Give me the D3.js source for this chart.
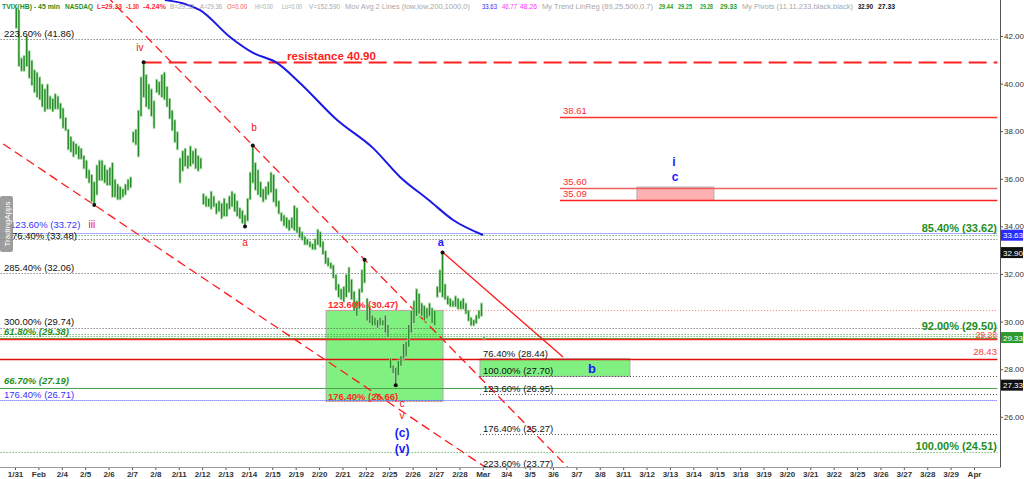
<!DOCTYPE html>
<html><head><meta charset="utf-8">
<script src="https://cdn.jsdelivr.net/npm/d3@7"></script>
<style>body{margin:0;background:#fff;} svg{display:block;font-family:Arial,"Liberation Sans",sans-serif;}</style>
</head><body><svg id="c" width="1024" height="479"></svg>
<script>
// ---------- data ----------
const dayLabels = ["1/31","Feb","2/4","2/5","2/6","2/7","2/8","2/11","2/12","2/13","2/14","2/15","2/19","2/20","2/21","2/22","2/25","2/26","2/27","2/28","Mar","3/4","3/5","3/6","3/7","3/8","3/11","3/12","3/13","3/14","3/15","3/18","3/19","3/20","3/21","3/22","3/25","3/26","3/27","3/28","3/29","Apr"];
const barsPerDay = 9;
const barHigh = [
43.2,43.1,41.1,41.2,42.0,41.4,41.0,40.6,40.5,
40.3,40.0,39.8,40.0,39.5,39.4,39.6,39.5,39.2,
39.0,38.6,38.1,37.8,37.6,37.5,37.4,37.3,37.0,
36.8,36.4,36.2,35.9,36.6,36.8,36.8,36.6,36.4,
36.5,36.7,36.0,35.8,35.7,35.6,35.8,36.0,36.1,
38.0,38.1,38.9,40.3,40.9,40.4,40.0,39.8,39.3,
40.2,40.1,40.4,40.5,39.9,39.4,38.9,38.5,38.0,
36.9,37.2,37.3,37.0,37.4,37.2,37.3,37.0,36.9,
35.4,35.3,35.2,35.5,35.3,35.0,35.1,35.0,35.2,
35.0,35.3,35.5,35.4,35.1,34.8,34.7,34.5,35.2,
36.3,37.4,36.7,36.4,35.9,35.6,35.7,35.9,36.3,
36.2,35.6,35.1,34.6,34.5,34.4,34.3,34.4,34.9,
34.8,34.0,33.8,33.6,33.5,33.4,33.3,33.5,33.9,
33.8,33.4,33.0,32.7,32.5,32.4,32.0,31.6,31.4,
31.5,32.0,32.3,31.8,31.3,30.9,31.4,32.2,32.6,
31.0,30.7,30.3,30.2,30.1,30.2,30.1,30.3,29.9,
28.5,28.2,28.1,28.4,28.6,29.1,29.2,29.9,30.5,
30.9,31.4,31.2,30.8,30.7,30.6,30.8,30.6,30.5,
31.5,32.2,32.9,31.6,31.1,31.0,30.9,31.1,31.0,
30.9,31.0,30.8,30.5,30.2,30.1,30.3,30.5,30.8,
29.4];
const barLow = [
42.3,40.7,40.5,40.5,40.7,40.2,39.9,39.6,39.4,
39.3,39.0,38.8,38.9,38.9,38.8,38.9,38.9,38.5,
38.1,38.0,37.2,37.1,36.9,37.0,36.8,36.8,36.4,
36.0,35.8,35.0,34.9,35.3,35.9,35.9,35.8,35.7,
35.7,35.2,35.2,35.1,35.1,35.2,35.3,35.5,35.6,
37.5,37.4,36.9,38.6,39.4,39.0,38.9,38.6,38.1,
39.6,39.5,39.4,39.3,39.0,38.5,38.0,37.5,37.2,
35.8,36.3,36.5,36.4,36.5,36.6,36.4,36.3,36.4,
34.9,34.8,34.8,34.7,34.8,34.5,34.6,34.3,34.4,
34.4,34.7,34.8,34.6,34.4,34.3,34.1,34.0,34.2,
35.1,35.8,35.5,35.3,35.2,35.0,35.1,35.3,35.4,
35.0,34.8,34.5,34.2,34.0,33.9,33.8,33.9,33.8,
33.7,33.5,33.4,33.2,33.2,33.1,33.0,33.0,33.2,
33.1,32.8,32.4,32.3,32.2,31.8,31.3,31.0,30.9,
30.8,31.0,31.2,30.9,30.4,30.2,30.5,31.2,31.6,
30.0,29.9,29.8,29.8,29.7,29.8,29.8,29.5,29.3,
28.0,27.8,27.33,27.7,28.1,28.4,28.5,28.9,29.5,
29.9,30.2,30.3,30.2,30.0,30.1,30.2,29.9,29.8,
31.0,31.2,31.0,30.9,30.7,30.6,30.6,30.6,30.5,
30.5,30.5,30.3,30.0,29.8,29.8,29.9,30.1,30.2,
29.25];
const maDay = [6.41, 7.91, 9.19, 10.18, 11.20, 12.18, 13.77, 15.31, 16.46, 17.7, 18.73, 20.01];
const maVal = [43.51, 43.09, 41.96, 41.29, 40.87, 40.03, 38.47, 37.29, 36.08, 35.1, 34.27, 33.64];
const pivotBars = [30, 49, 88, 91, 134, 146, 164];
const pivotSide = ["L","H","L","H","H","L","H"];
const priceTicks = [26,28,30,32,34,36,38,40,42];

// ---------- annotations ----------
const levels = [
 {p:41.86, d0:-1, d1:42, c:"#555", dash:"1,2", w:1},
 {p:40.90, d0:5.5, d1:42, c:"#ff2020", dash:"18,7", w:1.8},
 {p:38.61, d0:23.3, d1:42, c:"#ff3030", dash:null, w:1.5},
 {p:35.60, d0:23.3, d1:42, c:"#f06060", dash:null, w:1.5},
 {p:35.09, d0:23.3, d1:42, c:"#ff2020", dash:null, w:1.3},
 {p:33.72, d0:-1, d1:42, c:"#6060ff", dash:"1,1", w:1},
 {p:33.62, d0:-1, d1:42, c:"#30a030", dash:"1,2", w:1},
 {p:33.48, d0:-1, d1:42, c:"#555", dash:"1,2", w:1},
 {p:32.06, d0:-1, d1:42, c:"#555", dash:"1,2", w:1},
 {p:30.47, d0:13.3, d1:42, c:"#ff8080", dash:"1,2", w:1},
 {p:29.74, d0:-1, d1:42, c:"#555", dash:"1,2", w:1},
 {p:29.50, d0:-1, d1:42, c:"#30a030", dash:"1,2", w:1},
 {p:29.38, d0:-1, d1:42, c:"#30a030", dash:"1,2", w:1},
 {p:29.33, d0:-1, d1:42, c:"#50b050", dash:null, w:1},
 {p:29.28, d0:-1, d1:42, c:"#ff2020", dash:null, w:1.3},
 {p:28.43, d0:-1, d1:42, c:"#e01010", dash:null, w:1.3},
 {p:27.70, d0:19.88, d1:42, c:"#555", dash:"1,2", w:1},
 {p:27.19, d0:-1, d1:42, c:"#50a050", dash:null, w:1},
 {p:26.95, d0:19.88, d1:42, c:"#555", dash:"1,2", w:1},
 {p:26.71, d0:-1, d1:42, c:"#5050ff", dash:"1,1", w:1},
 {p:26.66, d0:13.3, d1:18.3, c:"#ff6060", dash:"1,2", w:1},
 {p:25.27, d0:19.88, d1:42, c:"#555", dash:"1,2", w:1},
 {p:24.51, d0:-1, d1:42, c:"#30a030", dash:"1,2", w:1}
];
const zones = [
 {d0:13.3, d1:18.3, p0:30.47, p1:26.66, fill:"#80f080"},
 {d0:19.88, d1:26.29, p0:28.44, p1:27.70, fill:"#80f080"},
 {d0:26.59, d1:29.88, p0:35.65, p1:35.09, fill:"#ffb0b0"}
];
const trendLines = [
 {a:{d:10.17,p:37.4}, b:{d:14.95,p:32.6}, from:3.5, to:24.5, dash:"9,5", w:1.3},
 {a:{d:-0.556,p:37.5}, b:{d:3.389,p:34.9}, from:-1, to:21, dash:"9,5", w:1.3},
 {a:{d:18.30,p:32.9}, b:{d:23.43,p:28.51}, from:18.30, to:23.43, dash:null, w:1.3}
];
const levelLabels = [
 {t:"223.60% (41.86)", d:-0.47, p:41.86, c:"#111", s:9.5},
 {t:"123.60% (33.72)", d:-0.21, p:33.72, c:"#3333ff", s:9.5, dy:-5},
 {t:"76.40% (33.48)", d:-0.13, p:33.48, c:"#111", s:9.5, dy:0},
 {t:"285.40% (32.06)", d:-0.47, p:32.06, c:"#111", s:9.5},
 {t:"300.00% (29.74)", d:-0.47, p:29.74, c:"#111", s:9.5, dy:-3},
 {t:"61.80% (29.38)", d:-0.47, p:29.38, c:"#1f8f1f", s:9.5, b:1, i:1, dy:-1.5},
 {t:"66.70% (27.19)", d:-0.47, p:27.19, c:"#1f8f1f", s:9.5, b:1, i:1, dy:-4},
 {t:"176.40% (26.71)", d:-0.47, p:26.71, c:"#3333ff", s:9.5},
 {t:"123.60% (30.47)", d:13.38, p:30.47, c:"#ff2a2a", s:9.5, b:1},
 {t:"176.40% (26.66)", d:13.38, p:26.66, c:"#ff2a2a", s:9.5, b:1, dy:-1},
 {t:"resistance 40.90", d:11.63, p:40.90, c:"#ff2020", s:11.5, b:1},
 {t:"38.61", d:23.43, p:38.61, c:"#ff2a2a", s:9.5, dy:-3},
 {t:"35.60", d:23.43, p:35.60, c:"#ff2a2a", s:9.5, dy:-3},
 {t:"35.09", d:23.43, p:35.09, c:"#ff2a2a", s:9.5, dy:-3},
 {t:"76.40% (28.44)", d:20.01, p:28.44, c:"#111", s:9.5},
 {t:"100.00% (27.70)", d:20.01, p:27.70, c:"#111", s:9.5},
 {t:"123.60% (26.95)", d:20.01, p:26.95, c:"#111", s:9.5},
 {t:"176.40% (25.27)", d:20.01, p:25.27, c:"#111", s:9.5},
 {t:"223.60% (23.77)", d:20.01, p:23.77, c:"#111", s:9.5, dy:-3},
 {t:"85.40% (33.62)", d:41.98, p:33.62, c:"#1f8f1f", s:11, b:1, end:1, dy:-3},
 {t:"92.00% (29.50)", d:41.98, p:29.50, c:"#1f8f1f", s:11, b:1, end:1, dy:-4},
 {t:"29.28", d:41.98, p:29.28, c:"#ff4040", s:8.5, end:1, dy:-0.8},
 {t:"28.43", d:41.98, p:28.43, c:"#ff4040", s:9.5, end:1, dy:-3.5},
 {t:"100.00% (24.51)", d:41.98, p:24.51, c:"#1f8f1f", s:11, b:1, end:1}
];
const waveLabels = [
 {t:"iv", d:5.34, p:41.37, c:"#ee1111", s:10},
 {t:"iii", d:3.29, p:33.95, c:"#ee1111", s:10},
 {t:"a", d:9.83, p:33.18, c:"#ee1111", s:10},
 {t:"b", d:10.22, p:38.01, c:"#ee1111", s:10},
 {t:"c", d:16.55, p:26.41, c:"#ee1111", s:10},
 {t:"v", d:16.55, p:25.91, c:"#ee1111", s:10},
 {t:"(c)", d:16.55, p:25.15, c:"#1a1aff", s:12, b:1},
 {t:"(v)", d:16.55, p:24.48, c:"#1a1aff", s:12, b:1},
 {t:"a", d:18.21, p:33.18, c:"#1a1aff", s:11, b:1},
 {t:"b", d:24.67, p:27.84, c:"#1a1aff", s:13, b:1},
 {t:"i", d:28.17, p:36.54, c:"#1a1aff", s:12, b:1},
 {t:"c", d:28.22, p:35.91, c:"#1a1aff", s:12, b:1}
];
const priceTags = [
 {v:33.63, fill:"#2a2aff"}, {v:32.90, fill:"#111"}, {v:29.33, fill:"#2e9a2e"}, {v:27.33, fill:"#111"}
];
const header = [
 {t:"TVIX(HB) - 45 min", x:2, w:58, c:"#1f8f1f", b:1},
 {t:"NASDAQ", x:65, w:28, c:"#1f8f1f", b:1},
 {t:"L=29.33", x:97, w:25, c:"#ff2a2a", b:1},
 {t:"-1.30", x:126, w:13, c:"#ff2a2a", b:1},
 {t:"-4.24%", x:143, w:23, c:"#ff2a2a", b:1},
 {t:"B=29.32", x:170, w:24, c:"#a8a8a8"},
 {t:"A=29.36", x:200, w:22, c:"#a8a8a8"},
 {t:"O=0.00", x:227, w:20, c:"#ff5050"},
 {t:"Hi=0.00", x:255, w:18, c:"#a8a8a8"},
 {t:"Lo=0.00", x:282, w:20, c:"#a8a8a8"},
 {t:"V=152,590", x:309, w:31, c:"#a8a8a8"},
 {t:"Mov Avg 2 Lines (low,low,200,1000,0)", x:345, w:125, c:"#a8a8a8"},
 {t:"33.63", x:482, w:15, c:"#2a2aff"},
 {t:"46.77", x:502, w:15, c:"#ff30ff"},
 {t:"48.26", x:520, w:17, c:"#ff30ff"},
 {t:"My Trend LinReg (89,25,500,0.7)", x:542, w:111, c:"#a8a8a8"},
 {t:"29.44", x:659, w:14, c:"#1f9f1f", b:1},
 {t:"29.25", x:678, w:14, c:"#1f9f1f", b:1},
 {t:"29.28", x:700, w:13, c:"#1f9f1f", b:1},
 {t:"29.33", x:720, w:17, c:"#1f9f1f", b:1},
 {t:"My Pivots (11,11,233,black,black)", x:742, w:111, c:"#a8a8a8"},
 {t:"32.90", x:858, w:15, c:"#111", b:1},
 {t:"27.33", x:878, w:17, c:"#111", b:1}
];

// ---------- drawing ----------
const svg = d3.select("#c");
const plotR = 1000, plotB = 467;
const x = d3.scaleLinear().domain([0, dayLabels.length - 1]).range([15, 974]);
const y = d3.scaleLinear().domain([23.891, 43.513]).range([plotB, 0]);
const bx = i => x((i + 0.5) / barsPerDay);

svg.append("defs").append("clipPath").attr("id","plot")
  .append("rect").attr("x",0).attr("y",0).attr("width",plotR).attr("height",plotB);
const g = svg.append("g").attr("clip-path","url(#plot)");

// zones
g.selectAll("rect.zone").data(zones).join("rect").attr("class","zone")
  .attr("x", d => x(d.d0)).attr("width", d => x(d.d1) - x(d.d0))
  .attr("y", d => y(d.p0)).attr("height", d => y(d.p1) - y(d.p0))
  .attr("fill", d => d.fill).attr("stroke","#aaa").attr("stroke-width",1);

// levels
g.selectAll("line.lvl").data(levels).join("line").attr("class","lvl")
  .attr("x1", d => x(d.d0)).attr("x2", d => x(d.d1))
  .attr("y1", d => Math.round(y(d.p)) + 0.5).attr("y2", d => Math.round(y(d.p)) + 0.5)
  .attr("stroke", d => d.c).attr("stroke-width", d => d.w)
  .attr("stroke-dasharray", d => d.dash);

// trend lines
trendLines.forEach(t => {
  const s = (t.b.p - t.a.p) / (t.b.d - t.a.d);
  const p0 = t.a.p + s * (t.from - t.a.d), p1 = t.a.p + s * (t.to - t.a.d);
  g.append("line").attr("x1", x(t.from)).attr("y1", y(p0)).attr("x2", x(t.to)).attr("y2", y(p1))
    .attr("stroke","#ff1a1a").attr("stroke-width", t.w).attr("stroke-dasharray", t.dash);
});

// moving average
const maLine = d3.line().x((d,i) => x(maDay[i])).y(d => y(d)).curve(d3.curveMonotoneX);
g.append("path").attr("d", maLine(maVal)).attr("fill","none").attr("stroke","#1a1ae6").attr("stroke-width",2);

// bars: light halo + dark core
const bars = barHigh.map((h,i) => ({i, h, l: barLow[i]}));
g.selectAll("line.halo").data(bars).join("line").attr("class","halo")
  .attr("x1", d => bx(d.i)).attr("x2", d => bx(d.i))
  .attr("y1", d => y(d.h)).attr("y2", d => y(d.l))
  .attr("stroke", "#a6d9a6").attr("stroke-width", 2.6);
g.selectAll("line.bar").data(bars).join("line").attr("class","bar")
  .attr("x1", d => bx(d.i)).attr("x2", d => bx(d.i))
  .attr("y1", d => y(d.h) + 1).attr("y2", d => y(d.l) - 1)
  .attr("stroke", "#228a22").attr("stroke-width", 1.3);

// pivots
g.selectAll("circle.pv").data(pivotBars).join("circle").attr("class","pv")
  .attr("cx", d => bx(d)).attr("cy", (d,k) => y(pivotSide[k] === "H" ? barHigh[d] : barLow[d]))
  .attr("r", 2).attr("fill","#111");

// level labels
const lab = svg.append("g");
lab.selectAll("text.ll").data(levelLabels).join("text").attr("class","ll")
  .attr("x", d => x(d.d)).attr("y", d => y(d.p) + (d.dy !== undefined ? d.dy : -2))
  .attr("text-anchor", d => d.end ? "end" : "start")
  .attr("fill", d => d.c).attr("font-size", d => d.s + "px")
  .attr("font-weight", d => d.b ? "bold" : "normal")
  .attr("font-style", d => d.i ? "italic" : "normal")
  .text(d => d.t);

lab.selectAll("text.wl").data(waveLabels).join("text").attr("class","wl")
  .attr("x", d => x(d.d)).attr("y", d => y(d.p)).attr("text-anchor","middle")
  .attr("fill", d => d.c).attr("font-size", d => d.s + "px")
  .attr("font-weight", d => d.b ? "bold" : "normal").text(d => d.t);

// watermark
const wm = svg.append("g");
wm.append("rect").attr("x",0).attr("y",196).attr("width",13).attr("height",56).attr("rx",2)
  .attr("fill","#8c8c8c").attr("opacity",0.85);
wm.append("text").attr("transform","translate(9.5,224) rotate(-90)").attr("text-anchor","middle")
  .attr("fill","#fff").attr("font-size","8px").text("TradingApps");

// axes
const xAxis = d3.axisBottom(x).tickValues(d3.range(dayLabels.length))
  .tickFormat(i => dayLabels[i]).tickSize(3).tickPadding(1);
const xa = svg.append("g").attr("transform", `translate(0,${plotB})`).call(xAxis);
xa.select(".domain").remove();
xa.selectAll("line").attr("stroke","#555");
xa.selectAll("text").attr("font-size","8px").attr("font-weight","bold").attr("fill","#333")
  .attr("font-family","Arial, 'Liberation Sans', sans-serif");
svg.append("line").attr("x1",0).attr("x2",plotR).attr("y1",plotB+0.5).attr("y2",plotB+0.5)
  .attr("stroke","#999").attr("stroke-width",1);

const yAxis = d3.axisRight(y).tickValues(priceTicks).tickFormat(d3.format(".2f")).tickSize(3).tickPadding(1);
const ya = svg.append("g").attr("transform", `translate(${plotR},0)`).call(yAxis);
ya.select(".domain").remove();
ya.selectAll("line").attr("stroke","#555");
ya.selectAll("text").attr("font-size","8px").attr("fill","#333")
  .attr("font-family","Arial, 'Liberation Sans', sans-serif");
svg.append("line").attr("x1",plotR+0.5).attr("x2",plotR+0.5).attr("y1",0).attr("y2",plotB+0.5)
  .attr("stroke","#555").attr("stroke-width",1);

// price tags
const tg = svg.selectAll("g.tag").data(priceTags).join("g").attr("class","tag")
  .attr("transform", d => `translate(${plotR+1},${y(d.v)})`);
tg.append("rect").attr("x",0).attr("y",-5.5).attr("width",22).attr("height",11).attr("fill", d => d.fill);
tg.append("text").attr("x",2).attr("y",3).attr("fill","#fff").attr("font-size","8px").text(d => d.v.toFixed(2));

// header
svg.append("g").selectAll("text").data(header).join("text")
  .attr("x", d => d.x).attr("y", 9).attr("fill", d => d.c)
  .attr("font-size","7px").attr("font-weight", d => d.b ? "bold" : "normal")
  .attr("textLength", d => d.w).attr("lengthAdjust","spacingAndGlyphs")
  .text(d => d.t);
</script></body></html>
